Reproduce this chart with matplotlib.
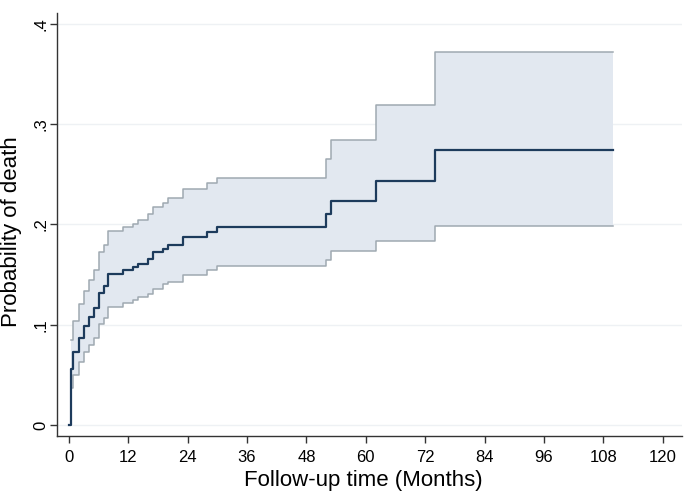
"""
Cumulative probability of death with 95% CI (step plot)
"""
import numpy as np
import matplotlib
matplotlib.use('Agg')
import matplotlib.pyplot as plt

# step times in months
times = [0, 0.4, 0.9, 2, 3.1, 4.1, 5.1, 6.1, 7.1, 7.9, 11, 13, 14, 16, 17,
         19, 20, 23, 28, 30, 52, 52.9, 62, 74]
fail = [0, .0555, .0725, .0864, .0987, .1073, .117, .132, .1386, .151, .1545,
        .158, .161, .166, .173, .176, .180, .188, .193, .1977, .210, .223,
        .2436, .2742]
upper = [np.nan, .085, .104, .1206, .1336, .1446, .155, .1725, .1795, .1934,
         .197, .200, .204, .210, .217, .2217, .226, .235, .241, .246, .2649,
         .2842, .319, .372]
lower = [np.nan, .0366, .0499, .0631, .0731, .0798, .0864, .1007, .1063,
         .118, .122, .1246, .128, .1306, .136, .1406, .143, .1496, .1545,
         .1585, .165, .174, .184, .198]
end_time = 110

x_ticks = [0, 12, 24, 36, 48, 60, 72, 84, 96, 108, 120]
y_ticks = [0, .1, .2, .3, .4]
y_tick_labels = ['0', '.1', '.2', '.3', '.4']

plt.rcParams['font.family'] = ['Liberation Sans', 'DejaVu Sans']

t = np.array(times + [end_time])
f = np.array(fail + [fail[-1]])
up = np.array(upper + [upper[-1]])
lo = np.array(lower + [lower[-1]])

fig = plt.figure(figsize=(6.85, 4.95), dpi=100)
ax = fig.add_axes([0.083, 0.119, 0.912, 0.855])

# CI band (starts at the first event)
ax.fill_between(t[1:], lo[1:], up[1:], step='post', color='#e2e8f0',
                linewidth=0, zorder=1)
ax.step(t[1:], up[1:], where='post', color='#9fa9b1', linewidth=1.1, zorder=2)
ax.step(t[1:], lo[1:], where='post', color='#9fa9b1', linewidth=1.1, zorder=2)
ax.step(t, f, where='post', color='#1d3b5c', linewidth=1.6, zorder=3)

ax.set_xlim(-2.42, 123.8)
ax.set_ylim(-0.011, 0.411)
ax.set_xticks(x_ticks)
ax.set_yticks(y_ticks)
ax.set_yticklabels(y_tick_labels, rotation=90, va='center')

ax.yaxis.grid(True, color='#eef1f4', linewidth=1.0)
ax.set_axisbelow(True)

for side in ['top', 'right']:
    ax.spines[side].set_visible(False)
for side in ['left', 'bottom']:
    ax.spines[side].set_color('#333333')
    ax.spines[side].set_linewidth(1.0)

ax.tick_params(axis='both', direction='out', length=5, width=1.0,
               color='#333333', labelsize=12)
ax.tick_params(axis='x', pad=5)
ax.tick_params(axis='y', pad=1)

ax.set_xlabel('Follow-up time (Months)', fontsize=16)
ax.set_ylabel('Probability of death', fontsize=16)
ax.xaxis.set_label_coords(0.53, 0.05, transform=fig.transFigure)
ax.yaxis.set_label_coords(0.032, 0.533, transform=fig.transFigure)

fig.savefig('out.png', dpi=100)
plt.close(fig)
